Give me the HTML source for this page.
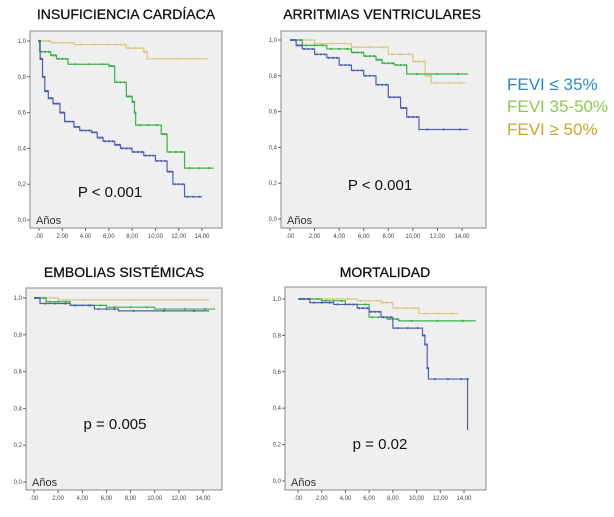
<!DOCTYPE html>
<html><head><meta charset="utf-8"><style>
body{margin:0;background:#fff;width:614px;height:517px;overflow:hidden;font-family:"Liberation Sans",sans-serif}
svg{display:block}
</style></head><body>
<svg id="s" width="614" height="517">
<text x="126" y="19" font-size="14" text-anchor="middle" fill="#111" stroke="#111" stroke-width="0.3">INSUFICIENCIA CARDÍACA</text>
<text x="382" y="19" font-size="14" text-anchor="middle" fill="#111" stroke="#111" stroke-width="0.3">ARRITMIAS VENTRICULARES</text>
<text x="124" y="277" font-size="14" text-anchor="middle" fill="#111" stroke="#111" stroke-width="0.3">EMBOLIAS SISTÉMICAS</text>
<text x="385" y="277" font-size="14" text-anchor="middle" fill="#111" stroke="#111" stroke-width="0.3">MORTALIDAD</text>
<text x="507" y="90" font-size="17" fill="#2a8ac8">FEVI ≤ 35%</text>
<text x="507" y="112" font-size="17" fill="#8cc850">FEVI 35-50%</text>
<text x="507" y="135" font-size="17" fill="#c8a830">FEVI ≥ 50%</text>
</svg>
<script>
const xTicks=[".00","2,00","4,00","6,00","8,00","10,00","12,00","14,00"];
const xTickVals=[0,2,4,6,8,10,12,14];
const yTickVals=[0,0.2,0.4,0.6,0.8,1.0];
const yTicks=["0,0","0,2","0,4","0,6","0,8","1,0"];
const hfBlue=[[0,1],[0.1,0.9],[0.3,0.8],[0.5,0.72],[0.8,0.68],[1.2,0.65],[1.8,0.6],[2.2,0.55],[3,0.52],[3.5,0.5],[4.5,0.49],[5,0.46],[5.5,0.44],[6.5,0.42],[7,0.4],[8,0.38],[9,0.36],[10,0.33],[11,0.27],[11.5,0.2],[12.5,0.13],[14,0.13]];
const hfGreen=[[0,1],[0.05,0.94],[1,0.92],[1.5,0.9],[2.5,0.87],[6,0.86],[6.5,0.77],[7.5,0.69],[8,0.66],[8.2,0.6],[8.3,0.53],[10.5,0.48],[11,0.38],[12.5,0.29],[15,0.29]];
const hfGold=[[0,1],[1,0.99],[3,0.98],[6.5,0.98],[7.5,0.96],[9,0.94],[9.3,0.9],[14.5,0.9]];
const arBlue=[[0,1],[0.5,0.97],[1,0.95],[2,0.92],[3,0.9],[4,0.86],[5,0.83],[6,0.8],[7,0.75],[8,0.68],[9,0.62],[9.5,0.57],[10.5,0.5],[14.5,0.5]];
const arGreen=[[0,1],[1,0.97],[3,0.95],[5,0.93],[6,0.91],[7,0.89],[7.5,0.87],[8.5,0.86],[9.5,0.81],[14.5,0.81]];
const arGold=[[0,1],[2,0.98],[5,0.96],[8,0.92],[10,0.88],[11,0.8],[11.5,0.76],[14.3,0.76]];
const emBlue=[[0,1],[0.5,0.97],[3,0.96],[5,0.94],[7,0.93],[14.5,0.93]];
const emGreen=[[0,1],[1,0.98],[3,0.96],[6,0.95],[10,0.94],[15,0.94]];
const emGold=[[0,1],[2,0.99],[14.5,0.99]];
const moBlue=[[0,1],[1,0.98],[3,0.97],[5,0.95],[6,0.93],[7,0.9],[8,0.84],[10.5,0.8],[10.7,0.75],[10.9,0.62],[11,0.56],[14.3,0.56],[14.3,0.28]];
const moGreen=[[0,1],[2,0.99],[4,0.97],[6,0.9],[7.5,0.89],[8.5,0.88],[15,0.88]];
const moGold=[[0,1],[5,0.99],[7,0.98],[8,0.95],[10.2,0.92],[13.5,0.92]];
const colors={blue:"#5060b0",green:"#3cb04a",gold:"#d8c880"};
const svg=document.getElementById('s');const NS="http://www.w3.org/2000/svg";
function mk(t,a){const e=document.createElementNS(NS,t);for(const k in a)e.setAttribute(k,a[k]);svg.appendChild(e);return e;}
function panel(p){
 const sx=v=>p.x0+v*(p.x14-p.x0)/14, sy=v=>p.y0+v*(p.y1-p.y0);
 const r=mk('rect',{x:p.l,y:p.t,width:p.r-p.l,height:p.b-p.t,fill:"#efefef",stroke:"#8a8a8a","stroke-width":1});
 
 yTickVals.forEach((v,i)=>{const y=sy(v);
  mk('line',{x1:p.l-3,x2:p.l,y1:y,y2:y,stroke:"#666"});
  const t=mk('text',{x:p.l-4,y:y+2,"font-size":6,"text-anchor":"end",fill:"#444"});t.textContent=yTicks[i];
  });
 xTickVals.forEach((v,i)=>{const x=sx(v);
  mk('line',{x1:x,x2:x,y1:p.b,y2:p.b+3,stroke:"#666"});
  const t=mk('text',{x:x,y:p.b+10,"font-size":6,"text-anchor":"middle",fill:"#444"});t.textContent=xTicks[i];
  });
 p.series.forEach(([d,c])=>{
  let s="M"+sx(d[0][0])+","+sy(d[0][1]);
  for(let i=1;i<d.length;i++){s+=" H"+sx(d[i][0])+" V"+sy(d[i][1]);}
  const e=mk('path',{d:s,fill:"none",stroke:colors[c],"stroke-width":1.2});
  
  for(let i=1;i<d.length;i++){
   const x1=sx(d[i-1][0]),x2=sx(d[i][0]),y=sy(d[i-1][1]);
   for(let k=0;k<3;k++){const m=mk('circle',{cx:x1+(x2-x1)*(k+0.5)/3,cy:y,r:1.1,fill:colors[c]});
    }
  }
 });
 const a=mk('text',{x:p.l+6,y:p.b-4,"font-size":11,fill:"#333"});a.textContent="Años";
 
 const pv=mk('text',{x:p.px,y:p.py,"font-size":15,"text-anchor":"middle",fill:"#111"});pv.textContent=p.ptext;
 
}
panel({name:"insuficiencia",l:30,r:222,t:31,b:228,x0:39,x14:202,y1:41,y0:220,px:110,py:197,ptext:"P < 0.001",series:[[hfGold,"gold"],[hfGreen,"green"],[hfBlue,"blue"]]});
panel({name:"arritmias",l:281,r:486,t:31,b:228,x0:290,x14:462,y1:40,y0:219,px:380,py:190,ptext:"P < 0.001",series:[[arGold,"gold"],[arGreen,"green"],[arBlue,"blue"]]});
panel({name:"embolias",l:26,r:222,t:288,b:490,x0:34,x14:203,y1:298,y0:482,px:115,py:429,ptext:"p = 0.005",series:[[emGold,"gold"],[emGreen,"green"],[emBlue,"blue"]]});
panel({name:"mortalidad",l:285,r:486,t:287,b:490,x0:298,x14:464,y1:299,y0:481,px:380,py:449,ptext:"p = 0.02",series:[[moGold,"gold"],[moGreen,"green"],[moBlue,"blue"]]});
</script>
</body></html>
